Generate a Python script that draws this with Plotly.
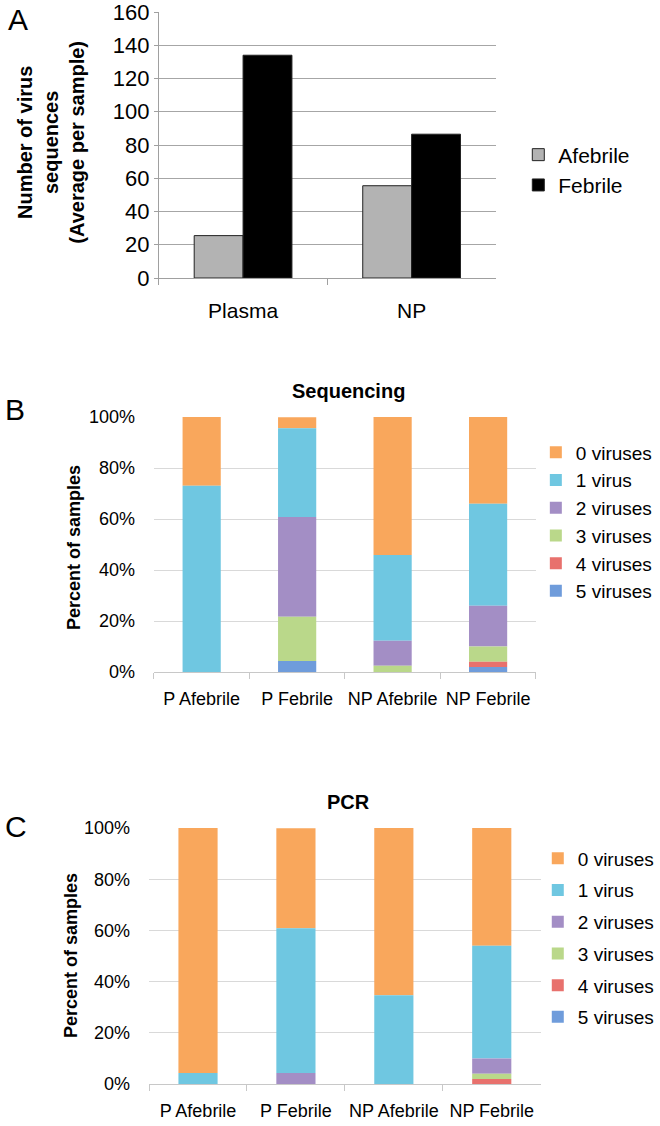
import numpy as np
import plotly.graph_objects as go

# panel A
sites = ["Plasma", "NP"]
afebrile_avg = [25.5, 55.5]
febrile_avg = [134, 86.5]

# panels B and C (percent of samples)
samples = ["P Afebrile", "P Febrile", "NP Afebrile", "NP Febrile"]
virus_labels = ["0 viruses", "1 virus", "2 viruses", "3 viruses", "4 viruses", "5 viruses"]

seq_0 = [27.0, 4.3, 54.1, 34.0]
seq_1 = [73.0, 34.8, 33.6, 40.0]
seq_2 = [0, 39.1, 9.8, 16.0]
seq_3 = [0, 17.4, 2.5, 6.0]
seq_4 = [0, 0, 0, 2.0]
seq_5 = [0, 4.3, 0, 2.0]

pcr_0 = [95.7, 39.1, 65.3, 46.0]
pcr_1 = [4.3, 56.5, 34.7, 44.0]
pcr_2 = [0, 4.3, 0, 6.0]
pcr_3 = [0, 0, 0, 2.0]
pcr_4 = [0, 0, 0, 2.0]
pcr_5 = [0, 0, 0, 0]

virus_colors = ["#F9A75C", "#6FC7E1", "#A38EC5", "#BAD88A", "#E8716D", "#6F9CDB"]

FONT = "Liberation Sans, Arial, sans-serif"
W, H = 660, 1126

def px(x):
    return x / W

def py(y):
    return 1 - y / H

fig = go.Figure()

fig.add_trace(go.Bar(x=sites, y=afebrile_avg, name="Afebrile", width=0.29, offset=-0.29,
                     marker=dict(color="#B3B3B3", line=dict(color="#222222", width=1)),
                     xaxis="x", yaxis="y", legend="legend"))
fig.add_trace(go.Bar(x=sites, y=febrile_avg, name="Febrile", width=0.29, offset=0,
                     marker=dict(color="#000000", line=dict(color="#222222", width=1)),
                     xaxis="x", yaxis="y", legend="legend"))


def add_stack(series, xa, ya, leg):
    series = [np.array(s, dtype=float) for s in series]
    for k, vals in enumerate(series):
        base = np.zeros(len(samples))
        for j in range(k + 1, len(series)):
            base = base + series[j]
        fig.add_trace(go.Bar(x=samples, y=vals, base=base, name=virus_labels[k],
                             width=0.40, offset=-0.20,
                             marker=dict(color=virus_colors[k], line=dict(width=0)),
                             legendgroup=leg + str(k),
                             xaxis=xa, yaxis=ya, legend=leg))


add_stack([seq_0, seq_1, seq_2, seq_3, seq_4, seq_5], "x2", "y2", "legend2")
add_stack([pcr_0, pcr_1, pcr_2, pcr_3, pcr_4, pcr_5], "x3", "y3", "legend3")

tickfont_a = dict(family=FONT, size=22, color="#000000")
tickfont_bc = dict(family=FONT, size=18, color="#000000")

xcat = dict(showline=True, ticks="outside", tickson="boundaries", ticklen=6,
            tickangle=0, showgrid=False, automargin=False, ticklabeloverflow="allow")
ylin = dict(zeroline=False, automargin=False, ticklabeloverflow="allow")

fig.update_layout(
    width=W, height=H,
    margin=dict(l=0, r=0, t=0, b=0),
    paper_bgcolor="white", plot_bgcolor="white",
    font=dict(family=FONT, color="#000000"),
    barmode="group",
    xaxis=dict(xcat, domain=[px(163), px(509)], anchor="y", linecolor="#A0A0A0", tickcolor="#A0A0A0",
               tickfont=dict(family=FONT, size=21), ticklabelstandoff=14),
    yaxis=dict(ylin, domain=[py(278), py(12)], anchor="x", range=[0, 160], dtick=20,
               showline=True, linecolor="#A0A0A0", ticks="outside", ticklen=4, tickcolor="#A0A0A0",
               gridcolor="#A6A6A6", gridwidth=1, tickfont=tickfont_a),
    xaxis2=dict(xcat, domain=[px(158), px(550)], anchor="y2", linecolor="#C8C8C8", tickcolor="#C8C8C8",
                tickfont=tickfont_bc, ticklabelstandoff=10),
    yaxis2=dict(ylin, domain=[py(672), py(417)], anchor="x2", range=[0, 100], dtick=20, ticksuffix="%",
                gridcolor="#D9D9D9", tickfont=tickfont_bc, ticklabelstandoff=18),
    xaxis3=dict(xcat, domain=[px(153), px(555)], anchor="y3", linecolor="#C8C8C8", tickcolor="#C8C8C8",
                tickfont=tickfont_bc, ticklabelstandoff=10),
    yaxis3=dict(ylin, domain=[py(1084), py(828)], anchor="x3", range=[0, 100], dtick=20, ticksuffix="%",
                gridcolor="#D9D9D9", tickfont=tickfont_bc, ticklabelstandoff=18),
    legend=dict(x=px(532), y=py(170), xanchor="left", yanchor="middle",
                font=dict(family=FONT, size=21), tracegroupgap=6, bgcolor="rgba(0,0,0,0)"),
    legend2=dict(x=px(550), y=py(522), xanchor="left", yanchor="middle",
                 font=dict(family=FONT, size=19), tracegroupgap=0, bgcolor="rgba(0,0,0,0)"),
    legend3=dict(x=px(552), y=py(938), xanchor="left", yanchor="middle",
                 font=dict(family=FONT, size=19), tracegroupgap=4, bgcolor="rgba(0,0,0,0)"),
    showlegend=True,
)

annotations = [
    dict(text="A", x=px(18), y=py(20), font=dict(size=30)),
    dict(text="B", x=px(15), y=py(409), font=dict(size=30)),
    dict(text="C", x=px(16), y=py(826), font=dict(size=30)),
    dict(text="<b>Sequencing</b>", x=px(358), y=py(391), font=dict(size=20)),
    dict(text="<b>PCR</b>", x=px(358), y=py(802), font=dict(size=20)),
    dict(text="<b>Number of virus<br>sequences<br>(Average per sample)</b>", x=px(52), y=py(142),
         textangle=-90, font=dict(size=20)),
    dict(text="<b>Percent of samples</b>", x=px(76), y=py(548), textangle=-90, font=dict(size=18)),
    dict(text="<b>Percent of samples</b>", x=px(73), y=py(956), textangle=-90, font=dict(size=18)),
]
for a in annotations:
    a.update(xref="paper", yref="paper", showarrow=False, xanchor="center", yanchor="middle")
    a["font"].update(family=FONT, color="#000000")
fig.update_layout(annotations=annotations)

# drop the browser's default page margin so the figure starts at the corner
fig.write_html("out.html", config={"displayModeBar": False},
               post_script="document.body.style.margin='0';")
